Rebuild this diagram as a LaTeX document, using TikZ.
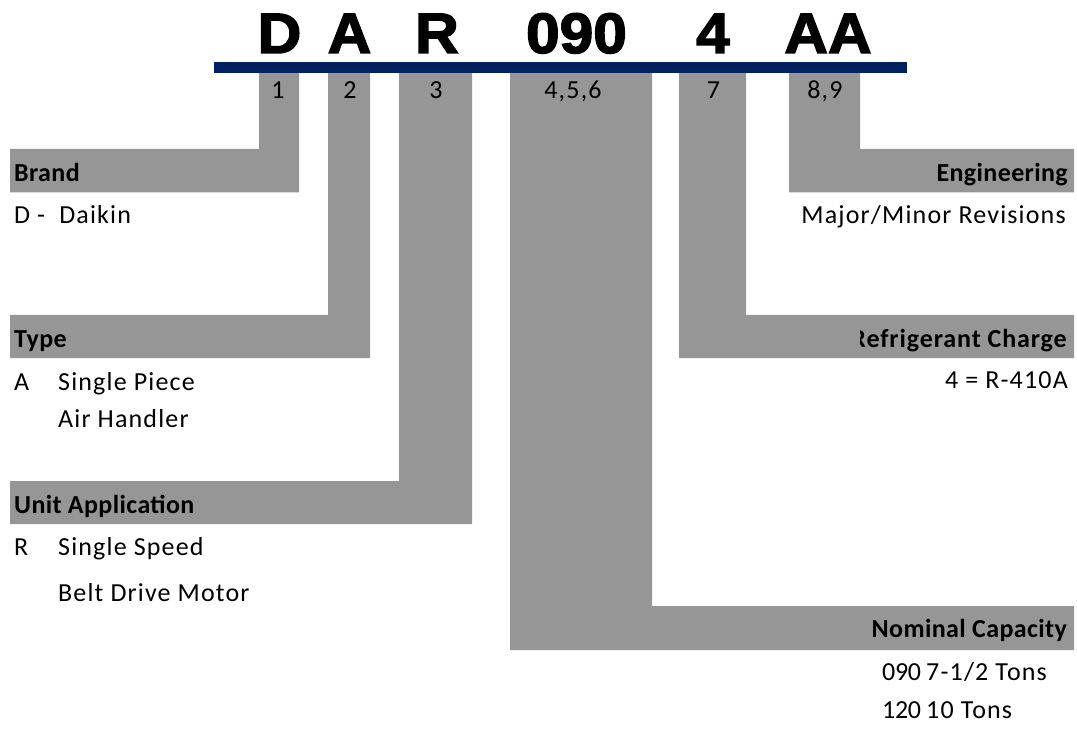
\documentclass[tikz,border=0pt]{standalone}
\usepackage{fontspec}
\setmainfont{Carlito}
\newfontfamily\bigfont{Liberation Sans Bold}[FakeBold=2.5]
\definecolor{gbar}{RGB}{150,150,150}
\definecolor{navy}{RGB}{0,32,96}
\tikzset{
  gshape/.style={fill=gbar,draw=none},
  hd/.style={anchor=base west,inner sep=0pt,font=\fontsize{26}{30}\selectfont\bfseries\addfontfeature{LetterSpace=1.5}},
  hdr/.style={anchor=base east,inner sep=0pt,font=\fontsize{26}{30}\selectfont\bfseries\addfontfeature{LetterSpace=1.5}},
  tx/.style={anchor=base west,inner sep=0pt,font=\fontsize{26}{30}\selectfont\addfontfeature{LetterSpace=4.5}},
  txr/.style={anchor=base east,inner sep=0pt,font=\fontsize{26}{30}\selectfont\addfontfeature{LetterSpace=4.5}},
  dig/.style={anchor=base west,inner sep=0pt,font=\fontsize{26}{30}\selectfont\addfontfeature{LetterSpace=-1.5}},
  num/.style={anchor=base,inner sep=0pt,font=\fontsize{26}{30}\selectfont\addfontfeature{LetterSpace=4.5}},
  code/.style={anchor=base,inner sep=0pt,font=\fontsize{57}{60}\selectfont\bigfont}
}
\begin{document}
\begin{tikzpicture}[x=1pt,y=-1pt]
\useasboundingbox (0,0) rectangle (1077,730);
% gray L shapes
\fill[gshape] (259,73) -- (299,73) -- (299,192.5) -- (10,192.5) -- (10,149) -- (259,149) -- cycle;
\fill[gshape] (328,73) -- (370,73) -- (370,358) -- (10,358) -- (10,315) -- (328,315) -- cycle;
\fill[gshape] (399,73) -- (472,73) -- (472,524) -- (10,524) -- (10,481) -- (399,481) -- cycle;
\fill[gshape] (510,73) -- (652,73) -- (652,606) -- (1074,606) -- (1074,650) -- (510,650) -- cycle;
\fill[gshape] (679,73) -- (746,73) -- (746,315) -- (1074,315) -- (1074,358) -- (679,358) -- cycle;
\fill[gshape] (789,73) -- (860,73) -- (860,149) -- (1074,149) -- (1074,192.5) -- (789,192.5) -- cycle;
% blue bar
\fill[navy] (214,62) rectangle (907,73);
% code letters
\node[code] (cD) at (279.5,53) {\scalebox{1.06}[1]{D}};
\node[code] (cA) at (349.5,53) {\scalebox{1.06}[1]{A}};
\node[code] (cR) at (437,53) {\scalebox{1.06}[1]{R}};
\node[code] (c090) at (576.5,53) {\scalebox{1.06}[1]{090}};
\node[code] (c4) at (713,53) {\scalebox{1.06}[1]{4}};
\node[code] (cAA) at (828,53) {\scalebox{1.06}[1]{AA}};
% column numbers
\node[num] (n1) at (278,99) {1};
\node[num] (n2) at (350,99) {2};
\node[num] (n3) at (436,99) {3};
\node[num] (n456) at (573,99) {4,5,6};
\node[num] (n7) at (713.5,99) {7};
\node[num] (n89) at (825,99) {8,9};
% left side texts
\node[hd] (brand) at (14,181.5) {Brand};
\node[tx] (daikin) at (14,224) {D -\ \ Daikin};
\node[hd] (type) at (14,347.5) {Type};
\node[tx] (tA) at (14,390) {A};
\node[tx] (tA1) at (58,390) {Single Piece};
\node[tx] (tA2) at (58,427) {Air Handler};
\node[hd] (unit) at (14,513) {Unit Application};
\node[tx] (tR) at (14,555) {R};
\node[tx] (tR1) at (58,555) {Single Speed};
\node[tx] (tR2) at (58,601) {Belt Drive Motor};
% right side texts
\node[hdr] (eng) at (1068,181.5) {Engineering};
\node[txr] (rev) at (1066,224) {Major/Minor Revisions};
\begin{scope}
\clip (860,300) rectangle (1077,370);
\node[hdr,font=\fontsize{26}{30}\selectfont\bfseries\addfontfeature{LetterSpace=3.5}] (refr) at (1067,347) {Refrigerant Charge};
\end{scope}
\node[txr] (r410) at (1068,388) {4 = R-410A};
\node[hdr] (nom) at (1067,637.5) {Nominal Capacity};
\node[dig] (c1a) at (882,680) {090};
\node[tx] (c1b) at (926,680) {7-1/2 Tons};
\node[dig] (c2a) at (882,718) {120};
\node[tx] (c2b) at (926,718) {10 Tons};
\end{tikzpicture}
\end{document}
